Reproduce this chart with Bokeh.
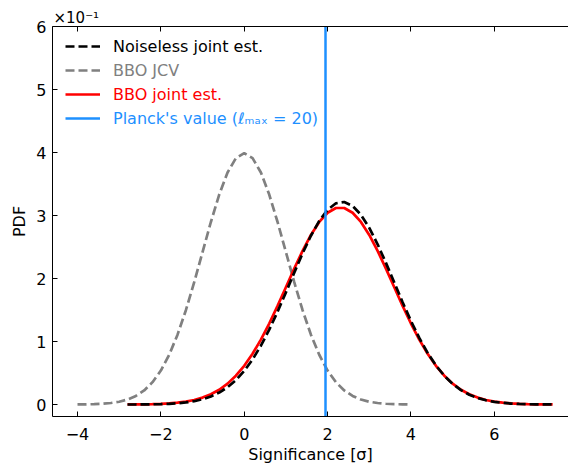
from bokeh.plotting import figure
from bokeh.models import (Title, Legend, LegendItem, LinearAxis, FixedTicker, Range1d)
from bokeh.embed import file_html
from bokeh.resources import INLINE

# ---- data (PDF values in units of 1e-1) ----
x_jcv = [round(-4.0 + 0.2 * k, 1) for k in range(41)]
pdf_jcv = [0.001, 0.003, 0.006, 0.012, 0.024, 0.044, 0.079, 0.136, 0.224, 0.355,
           0.540, 0.790, 1.109, 1.497, 1.942, 2.420, 2.897, 3.332, 3.683, 3.910,
           3.989,
           3.910, 3.683, 3.332, 2.897, 2.420, 1.942, 1.497, 1.109, 0.790, 0.540,
           0.355, 0.224, 0.136, 0.079, 0.044, 0.024, 0.012, 0.006, 0.003, 0.001]

x_joint = [round(-2.8 + 0.2 * k, 1) for k in range(52)]
pdf_bbo_joint = [0.001, 0.002, 0.0035, 0.006, 0.011, 0.018, 0.029, 0.046, 0.072, 0.110,
                 0.163, 0.235, 0.332, 0.458, 0.615, 0.806, 1.031, 1.286, 1.566, 1.861,
                 2.157, 2.439, 2.691, 2.898, 3.044, 3.119,
                 3.119, 3.044, 2.898, 2.691, 2.439, 2.157, 1.861, 1.566, 1.286, 1.031,
                 0.806, 0.615, 0.458, 0.332, 0.235, 0.163, 0.110, 0.072, 0.046, 0.029,
                 0.018, 0.011, 0.006, 0.0035, 0.002, 0.001]
pdf_noiseless = [0.0006, 0.0011, 0.0021, 0.0038, 0.0068, 0.0119, 0.020, 0.033, 0.053, 0.084,
                 0.128, 0.190, 0.275, 0.388, 0.534, 0.716, 0.934, 1.188, 1.473, 1.779,
                 2.093, 2.399, 2.679, 2.916, 3.091, 3.194, 3.214, 3.152, 3.012, 2.804,
                 2.543, 2.248, 1.936, 1.624, 1.327, 1.057, 0.820, 0.620, 0.457, 0.328,
                 0.229, 0.156, 0.104, 0.067, 0.042, 0.026, 0.0155, 0.0090, 0.0051, 0.0028,
                 0.0015, 0.0008]

planck_value = 1.95

x_lim = (-4.6, 7.78)
y_lim = (-0.19, 6.0)
x_ticks = [-4, -2, 0, 2, 4, 6]
y_ticks = [0, 1, 2, 3, 4, 5, 6]

labels = ["Noiseless joint est.", "BBO JCV", "BBO joint est.",
          "Planck's value (\u2113\u2098\u2090\u2093 = 20)"]
colors = ["black", "gray", "red", "#1E90FF"]

FONT = "DejaVu Sans"

p = figure(frame_width=516, frame_height=390, output_backend="svg", toolbar_location=None,
           x_range=Range1d(*x_lim), y_range=Range1d(*y_lim),
           min_border_left=52, min_border_right=0, min_border_top=26, min_border_bottom=50)
p.outline_line_color = None
p.xgrid.visible = False
p.ygrid.visible = False

r_jcv = p.line(x_jcv, pdf_jcv, line_color=colors[1], line_width=2.7, line_dash="9 4")
r_bbo = p.line(x_joint, pdf_bbo_joint, line_color=colors[2], line_width=2.7)
r_nl = p.line(x_joint, pdf_noiseless, line_color=colors[0], line_width=2.7, line_dash="9 4")
r_pl = p.line([planck_value, planck_value], [y_lim[0] - 1, y_lim[1] + 1],
              line_color=colors[3], line_width=2.5)

def style_axis(ax):
    ax.major_tick_in = 5
    ax.major_tick_out = 0
    ax.minor_tick_line_color = None
    ax.axis_line_color = "black"
    ax.major_tick_line_color = "black"
    ax.major_label_text_font = FONT
    ax.major_label_text_font_size = "16px"
    ax.major_label_text_color = "black"
    ax.axis_label_text_font = FONT
    ax.axis_label_text_font_size = "16px"
    ax.axis_label_text_font_style = "normal"
    ax.axis_label_text_color = "black"

xa = p.xaxis[0]
style_axis(xa)
xa.ticker = FixedTicker(ticks=x_ticks)
xa.major_label_overrides = {t: ("\u2212" + str(-t) if t < 0 else str(t)) for t in x_ticks}
xa.axis_label = "Significance [\u03c3]"
xa.major_label_standoff = 11
xa.axis_label_standoff = 2

ya = p.yaxis[0]
style_axis(ya)
ya.ticker = FixedTicker(ticks=y_ticks)
ya.axis_label = "PDF"
ya.major_label_standoff = 6
ya.axis_label_standoff = 4

top = LinearAxis(ticker=FixedTicker(ticks=x_ticks))
style_axis(top)
top.major_label_overrides = {t: "" for t in x_ticks}
top.major_label_text_font_size = "1px"
top.major_label_standoff = 0
p.add_layout(top, "above")

p.add_layout(Title(text="\u00d710\u207b\u00b9", text_font=FONT, text_font_size="15px",
                   text_font_style="normal", align="left", offset=1, standoff=0,
                   text_color="black"), "above")

renderers = [r_nl, r_jcv, r_bbo, r_pl]
for i, (lab, col, rend) in enumerate(zip(labels, colors, renderers)):
    leg = Legend(items=[LegendItem(label=lab, renderers=[rend])],
                 location=(13, 360 - 24 * i), padding=0, margin=0,
                 glyph_width=35, glyph_height=20, label_height=20, label_standoff=13,
                 label_text_font=FONT, label_text_font_size="16px", label_text_color=col,
                 border_line_color=None, background_fill_alpha=0)
    p.add_layout(leg, "center")

open("out.html", "w").write(file_html(p, INLINE))
